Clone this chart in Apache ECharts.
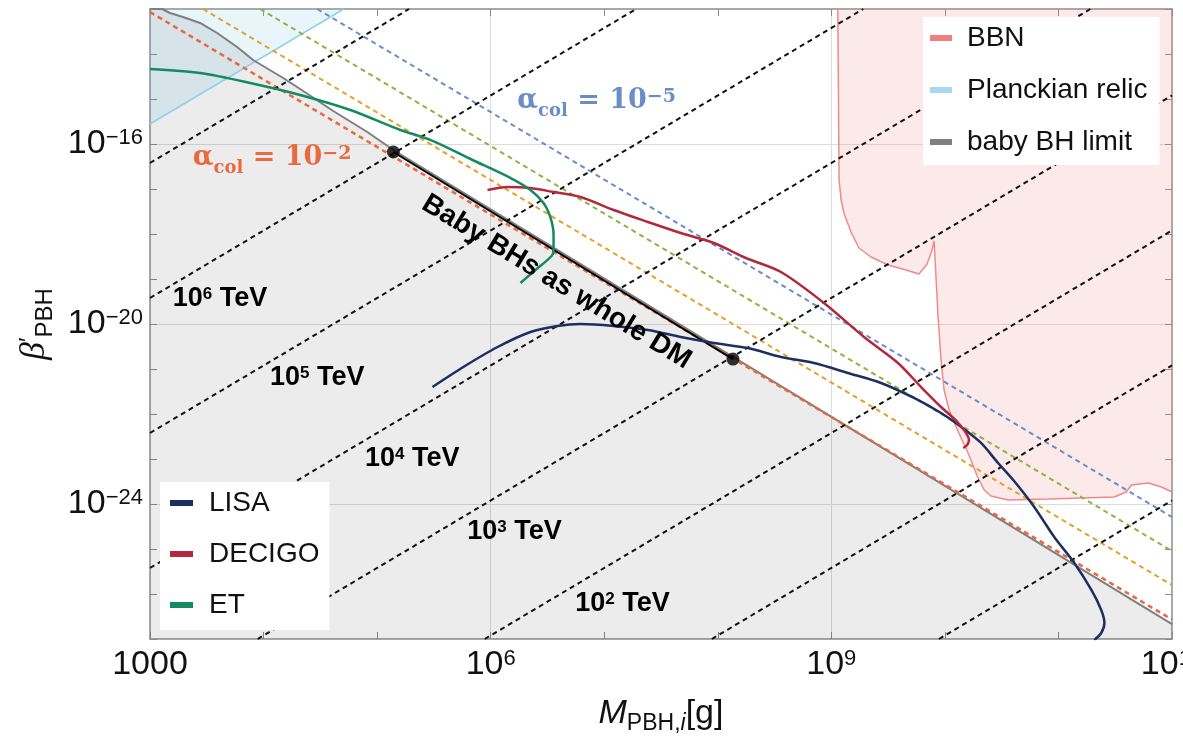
<!DOCTYPE html>
<html><head><meta charset="utf-8">
<script src="https://cdn.jsdelivr.net/npm/echarts@6/dist/echarts.min.js"></script>
<style>html,body{margin:0;padding:0;background:#fff}#c{width:1183px;height:738px}</style>
</head><body><div id="c"></div>
<script>
// ---------------- data (M_PBH in g, beta' dimensionless) ----------------
const xTickExps = [3, 6, 9, 12];
const yTickExps = [-16, -20, -24];

const lisaMass = [3.07e5, 5.75e5, 1.15e6, 2.24e6, 3.88e6, 6.19e6, 1.21e7, 2.42e7, 4.72e7, 9.23e7, 1.84e8, 3.60e8, 7.03e8, 1.40e9, 2.74e9, 5.35e9, 9.25e9, 1.39e10, 2.08e10, 2.94e10, 4.07e10, 6.12e10, 9.18e10, 1.38e11, 1.95e11, 2.38e11, 2.54e11, 2.38e11, 2.07e11];
const lisaBeta = [3.98e-22, 1.11e-21, 3.08e-21, 6.64e-21, 9.04e-21, 1.00e-20, 9.04e-21, 7.36e-21, 5.14e-21, 3.78e-21, 2.93e-21, 1.85e-21, 1.36e-21, 8.15e-22, 4.89e-22, 2.27e-22, 1.05e-22, 5.14e-23, 2.27e-23, 8.15e-24, 3.24e-24, 8.57e-25, 1.85e-25, 4.89e-26, 1.23e-26, 4.41e-27, 2.27e-27, 1.36e-27, 9.51e-28];

const decigoMass = [9.38e5, 1.41e6, 2.24e6, 3.58e6, 6.19e6, 1.21e7, 2.42e7, 4.72e7, 9.23e7, 1.77e8, 3.60e8, 8.61e8, 1.94e9, 3.86e9, 6.17e9, 9.25e9, 1.31e10, 1.63e10, 1.57e10, 1.45e10];
const decigoBeta = [9.51e-18, 1.11e-17, 1.05e-17, 8.57e-18, 6.64e-18, 3.41e-18, 1.85e-18, 1.05e-18, 6.31e-19, 2.93e-19, 1.43e-19, 2.93e-20, 5.14e-21, 1.36e-21, 3.98e-22, 1.43e-22, 6.31e-23, 2.64e-23, 2.05e-23, 1.75e-23];

const etMass = [1e3, 2.76e3, 7.62e3, 2.10e4, 5.81e4, 1.60e5, 2.94e5, 6.92e5, 1.50e6, 2.24e6, 2.92e6, 3.37e6, 3.58e6, 3.58e6, 3.44e6, 2.48e6, 1.83e6];
const etBeta = [4.64e-15, 3.78e-15, 2.27e-15, 1.23e-15, 5.70e-16, 2.05e-16, 1.23e-16, 4.41e-17, 1.75e-17, 9.51e-18, 4.89e-18, 2.27e-18, 9.51e-19, 4.41e-19, 3.24e-19, 1.58e-19, 8.15e-20];

const bbnMass = [1.14e9, 1.17e9, 1.22e9, 1.29e9, 1.49e9, 1.75e9, 2.23e9, 3.16e9, 4.55e9, 5.92e9, 6.97e9, 7.71e9, 8.04e9, 8.71e9, 9.25e9, 9.84e9, 1.09e10, 1.21e10, 1.39e10, 1.60e10, 1.96e10, 2.22e10, 2.55e10, 3.61e10, 8.13e10, 1.59e11, 3.10e11, 3.96e11, 4.39e11, 6.19e11, 8.07e11, 1e12];
const bbnBeta = [1e-13, 1.58e-17, 5.70e-18, 2.93e-18, 1.11e-18, 4.89e-19, 3.08e-19, 2.05e-19, 1.58e-19, 1.29e-19, 2.15e-19, 4.41e-19, 6.98e-19, 1.43e-20, 1.58e-21, 3.41e-22, 1.23e-22, 6.31e-23, 2.93e-23, 1.36e-23, 3.78e-24, 2.05e-24, 1.51e-24, 1.23e-24, 1.29e-24, 1.36e-24, 1.43e-24, 1.85e-24, 2.64e-24, 2.93e-24, 2.39e-24, 1.85e-24];

const planckMass = [1e3, 5.09e4];
const planckBeta = [2.78e-16, 1e-13];

const babyLimitMass = [1e3, 1.28e3, 1.50e3, 1.95e3, 2.76e3, 3.90e3, 5.85e3, 8.09e3, 9.91e3, 1.49e4, 2.10e4, 4.11e4, 8.20e4, 1.39e5, 1.36e8, 1e12];
const babyLimitBeta = [1e-13, 1e-13, 8.15e-14, 6.64e-14, 4.89e-14, 2.93e-14, 1.43e-14, 7.36e-15, 5.41e-15, 2.93e-15, 1.67e-15, 5.41e-16, 1.85e-16, 7.36e-17, 1.85e-21, 2.15e-27];

const wholeDmMass = [1.39e5, 1.36e8];
const wholeDmBeta = [6.64e-17, 1.66e-21];

// alpha_col dashed lines (10^-2 ... 10^-5)
const alphaNames = ['alpha 1e-2', 'alpha 1e-3', 'alpha 1e-4', 'alpha 1e-5'];
const alphaMass = [[1e3, 1e12], [2.93e3, 1e12], [9.33e3, 1e12], [2.97e4, 1e12]];
const alphaBeta = [[8.57e-14, 2.71e-27], [1e-13, 1.58e-26], [1e-13, 9.02e-26], [1e-13, 5.13e-25]];

// temperature dashed lines
const tevLineMass = [[1e3, 1.91e5], [1e3, 1.91e7], [1e3, 1.91e9], [1e3, 1.91e11], [8.87e3, 1e12], [8.87e5, 1e12], [8.87e7, 1e12], [8.87e9, 1e12]];
const tevLineBeta = [[3.78e-17, 1e-13], [3.78e-20, 1e-13], [3.78e-23, 1e-13], [3.78e-26, 1e-13], [1e-27, 1.20e-15], [1e-27, 1.20e-18], [1e-27, 1.20e-21], [1e-27, 1.20e-24]];

const tevLabelExp = ['6', '5', '4', '3', '2'];
const tevLabelMass = [4.14e3, 2.97e4, 2.04e5, 1.62e6, 1.45e7];
const tevLabelBeta = [3.60e-20, 6.31e-22, 1.0e-23, 2.39e-25, 6.0e-27];

const alphaLabelExp = ['2', '5'];
const alphaLabelMass = [1.19e4, 8.57e6];
const alphaLabelBeta = [4.89e-17, 9.04e-16];

const dmLabelMass = [3.80e6];
const dmLabelBeta = [8.57e-20];

const yMin = 1e-27, yMax = 1e-13;

// ---------------- chart ----------------
const pairs = (xs, ys) => xs.map((x, i) => [x, ys[i]]);
const SANS = 'Liberation Sans';
const frame = '#8c8c8c';

const series = [];
series.push({ name: 'Planckian relic', type: 'line', data: pairs(planckMass, planckBeta), symbol: 'none', z: 1,
  itemStyle: { color: '#a6d8ee' },
  lineStyle: { color: '#8fd0ea', width: 1.5 }, areaStyle: { origin: yMax, color: 'rgba(135,206,235,0.27)' } });
series.push({ name: 'baby BH limit', type: 'line', data: pairs(babyLimitMass, babyLimitBeta), symbol: 'none', z: 1,
  itemStyle: { color: '#808080' },
  lineStyle: { color: '#7f7f7f', width: 2 }, areaStyle: { origin: yMin, color: 'rgba(0,0,0,0.105)' } });
series.push({ name: 'BBN', type: 'line', data: pairs(bbnMass, bbnBeta), symbol: 'none', z: 1,
  itemStyle: { color: '#f08080' },
  lineStyle: { color: '#f08a8a', width: 1.5 }, areaStyle: { origin: yMax, color: 'rgba(240,128,128,0.25)' } });

const alphaColors = ['#e8683f', '#e3a127', '#8fb33f', '#6a8dc8'];
alphaMass.forEach((xs, i) => series.push({ name: alphaNames[i], type: 'line', data: pairs(xs, alphaBeta[i]), symbol: 'none', z: 2,
  lineStyle: { color: alphaColors[i], width: i === 0 ? 2.5 : 2, type: [5, 4] } }));
tevLineMass.forEach((xs, i) => series.push({ name: 'T line ' + i, type: 'line', data: pairs(xs, tevLineBeta[i]), symbol: 'none', z: 2,
  lineStyle: { color: '#111', width: 2, type: [5, 4] } }));

series.push({ name: 'whole DM', type: 'line', data: pairs(wholeDmMass, wholeDmBeta), symbol: 'none', z: 3, lineStyle: { color: '#000', width: 2 } });
series.push({ name: 'LISA', type: 'line', data: pairs(lisaMass, lisaBeta), symbol: 'none', smooth: 0.3, z: 3, itemStyle: { color: '#1d2f62' }, lineStyle: { color: '#1d2f62', width: 2.5 } });
series.push({ name: 'DECIGO', type: 'line', data: pairs(decigoMass, decigoBeta), symbol: 'none', smooth: 0.3, z: 3, itemStyle: { color: '#b3283a' }, lineStyle: { color: '#b3283a', width: 2.5 } });
series.push({ name: 'ET', type: 'line', data: pairs(etMass, etBeta), symbol: 'none', smooth: 0.3, z: 3, itemStyle: { color: '#148a63' }, lineStyle: { color: '#148a63', width: 2.5 } });
series.push({ name: 'dots', type: 'scatter', data: pairs(wholeDmMass, wholeDmBeta), symbol: 'circle', symbolSize: 13, z: 4, itemStyle: { color: '#000' } });

const hiddenLabel = { type: 'scatter', symbol: 'circle', symbolSize: 1, itemStyle: { color: 'transparent' }, z: 6, silent: true };
const noBorder = { textBorderWidth: 0, textShadowBlur: 0, opacity: 1 };
series.push(Object.assign({}, hiddenLabel, { name: 'T labels',
  data: tevLabelMass.map((m, i) => ({ value: [m, tevLabelBeta[i]], name: tevLabelExp[i] })),
  label: Object.assign({ show: true, position: 'inside', color: '#000', formatter: p => `{n|10}{s|${p.name}}{n| TeV}`,
    rich: { n: { fontFamily: SANS, fontWeight: 'bold', fontSize: 27, color: '#000', verticalAlign: 'bottom' },
            s: { fontFamily: SANS, fontWeight: 'bold', fontSize: 17, color: '#000', verticalAlign: 'top' } } }, noBorder) }));
const alphaLabelColors = ['#ea6a3f', '#6a8dc8'];
alphaLabelMass.forEach((m, i) => series.push(Object.assign({}, hiddenLabel, { name: 'alpha label ' + i,
  data: [{ value: [m, alphaLabelBeta[i]], name: alphaLabelExp[i] }],
  label: Object.assign({ show: true, position: 'inside', color: alphaLabelColors[i], formatter: p => `{a|α}{c|col}{e| = 10}{s|−${p.name}}`,
    rich: { a: { fontFamily: 'DejaVu Serif', fontWeight: 'bold', fontSize: 27, color: alphaLabelColors[i], verticalAlign: 'bottom' },
            c: { fontFamily: 'DejaVu Serif', fontWeight: 'bold', fontSize: 18, color: alphaLabelColors[i], verticalAlign: 'bottom', padding: [0, 0, -6, 0] },
            e: { fontFamily: 'DejaVu Serif', fontWeight: 'bold', fontSize: 27, color: alphaLabelColors[i], verticalAlign: 'bottom' },
            s: { fontFamily: 'DejaVu Serif', fontWeight: 'bold', fontSize: 19, color: alphaLabelColors[i], verticalAlign: 'top' } } }, noBorder) })));
series.push(Object.assign({}, hiddenLabel, { name: 'dm label', data: pairs(dmLabelMass, dmLabelBeta),
  label: Object.assign({ show: true, position: 'inside', rotate: -31.4, formatter: 'Baby BHs as whole DM',
    fontFamily: SANS, fontWeight: 'bold', fontSize: 28, color: '#000' }, noBorder) }));

const tickRich = {
  b: { fontFamily: SANS, fontSize: 34, color: '#111', verticalAlign: 'bottom' },
  s: { fontFamily: SANS, fontSize: 22, color: '#111', verticalAlign: 'top', lineHeight: 16 }
};
const axLine = { show: true, onZero: false, lineStyle: { color: frame, width: 1.5 } };
const axTick = { show: true, inside: true, length: 7, lineStyle: { color: frame, width: 1 } };

const option = {
  animation: false,
  backgroundColor: '#fff',
  grid: { left: 150, right: 11, top: 9, bottom: 99, containLabel: false, outerBoundsMode: 'none' },
  xAxis: [
    { type: 'log', logBase: 10, min: 1e3, max: 1e12, show: false },
    { type: 'value', min: 3, max: 12, interval: 3, position: 'bottom', axisLine: axLine, axisTick: axTick,
      minorTick: { show: true, splitNumber: 3, length: 7, lineStyle: { color: frame } },
      splitLine: { show: true, showMinLine: false, showMaxLine: false, lineStyle: { color: '#dcdcdc', width: 1 } },
      axisLabel: { margin: 9, formatter: v => xTickExps.includes(v) ? (v === 3 ? '{b|1000}' : `{b|10}{s|${v}}`) : '', rich: tickRich },
      name: '{m|M}{s|PBH,}{si|i}{n|[g]}', nameLocation: 'middle', nameGap: 58,
      nameTextStyle: { rich: {
        m: { fontFamily: SANS, fontStyle: 'italic', fontSize: 34, color: '#111', verticalAlign: 'bottom' },
        s: { fontFamily: SANS, fontSize: 23, color: '#111', verticalAlign: 'bottom', padding: [0, 0, -4, 0] },
        si: { fontFamily: SANS, fontStyle: 'italic', fontSize: 23, color: '#111', verticalAlign: 'bottom', padding: [0, 0, -4, 0] },
        n: { fontFamily: SANS, fontSize: 34, color: '#111', verticalAlign: 'bottom' } } } },
    { type: 'value', min: 3, max: 12, interval: 3, position: 'top', axisLine: axLine, axisTick: axTick,
      minorTick: { show: true, splitNumber: 3, length: 7, lineStyle: { color: frame } },
      splitLine: { show: false }, axisLabel: { show: false } }
  ],
  yAxis: [
    { type: 'log', logBase: 10, min: yMin, max: yMax, show: false },
    { type: 'value', min: -27, max: -13, interval: 1, position: 'left', axisLine: axLine, axisTick: axTick,
      splitLine: { show: true, lineStyle: { color: ['rgba(0,0,0,0)', 'rgba(0,0,0,0)', 'rgba(0,0,0,0)', '#dcdcdc'], width: 1 } },
      axisLabel: { margin: 7, formatter: v => yTickExps.includes(v) ? `{b|10}{s|−${-v}}` : '', rich: tickRich },
      name: '{g|β}{p|′}{s|PBH}', nameLocation: 'middle', nameGap: 88, nameRotate: 90,
      nameTextStyle: { rich: {
        g: { fontFamily: 'Liberation Serif', fontStyle: 'italic', fontSize: 36, color: '#111', verticalAlign: 'bottom' },
        p: { fontFamily: SANS, fontSize: 24, color: '#111', verticalAlign: 'top' },
        s: { fontFamily: SANS, fontSize: 24, color: '#111', verticalAlign: 'bottom', padding: [0, 0, -4, 0] } } } },
    { type: 'value', min: -27, max: -13, interval: 1, position: 'right', axisLine: axLine, axisTick: axTick,
      splitLine: { show: false }, axisLabel: { show: false } }
  ],
  legend: [
    { orient: 'vertical', left: 923, top: 17, padding: [6, 12, 8, 7], backgroundColor: '#fff', itemWidth: 22, itemHeight: 6, itemGap: 22,
      icon: 'rect', itemStyle: { borderWidth: 0 }, selectedMode: false,
      textStyle: { fontFamily: SANS, fontSize: 28, color: '#111', lineHeight: 30, padding: [0, 0, 0, 10] },
      data: [{ name: 'BBN', itemStyle: { color: '#f08080' } },
             { name: 'Planckian relic', itemStyle: { color: '#a6d8ee' } },
             { name: 'baby BH limit', itemStyle: { color: '#808080' } }] },
    { orient: 'vertical', left: 160, top: 482, padding: [6, 10, 10, 10], backgroundColor: '#fff', itemWidth: 23, itemHeight: 6, itemGap: 21,
      icon: 'rect', itemStyle: { borderWidth: 0 }, selectedMode: false,
      textStyle: { fontFamily: SANS, fontSize: 28, color: '#111', lineHeight: 30, padding: [0, 0, 0, 11] },
      data: [{ name: 'LISA', itemStyle: { color: '#1d2f62' } },
             { name: 'DECIGO', itemStyle: { color: '#b3283a' } },
             { name: 'ET', itemStyle: { color: '#148a63' } }] }
  ],
  series: series
};
const chart = echarts.init(document.getElementById('c'));
chart.setOption(option);
</script></body></html>
